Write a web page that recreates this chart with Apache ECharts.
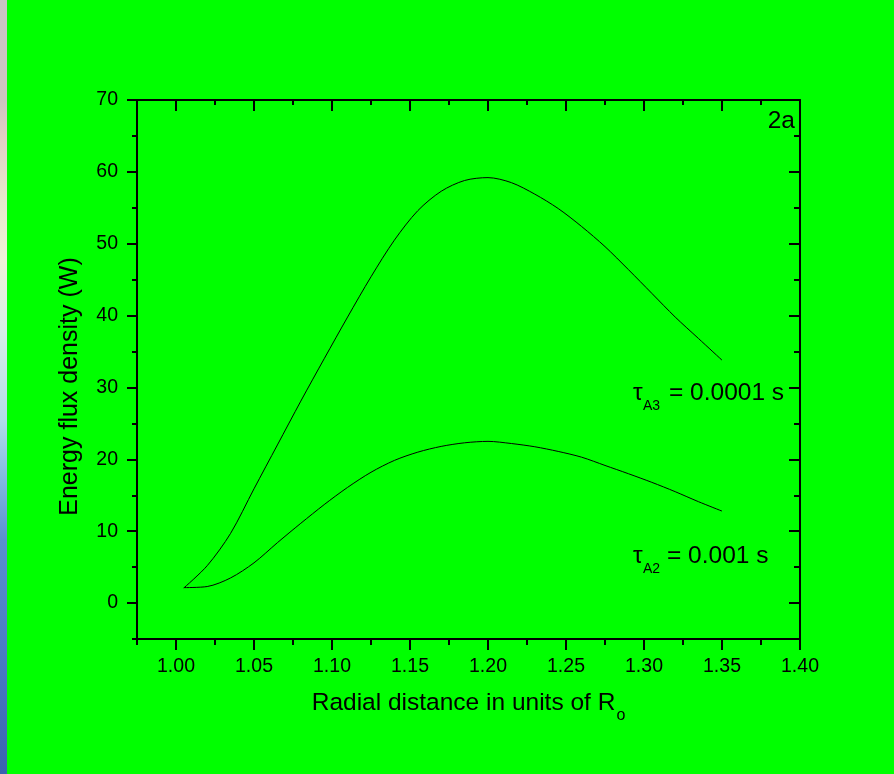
<!DOCTYPE html>
<html><head><meta charset="utf-8">
<script src="https://cdn.jsdelivr.net/npm/echarts@6/dist/echarts.min.js"></script>
<style>
html,body{margin:0;padding:0;background:#00ff00;width:894px;height:774px;overflow:hidden;}
#strip{position:absolute;left:0;top:0;width:7px;height:774px;
background:linear-gradient(to bottom,#c8c4c4 0px,#cdc4c0 100px,#e2cfc4 140px,#e6e8cc 200px,#eef2d8 260px,#d8eee8 330px,#b0dce8 420px,#80b8e0 480px,#5a8fd0 540px,#4a7cc4 650px,#3a64b0 774px);}
#chart{position:absolute;left:0;top:0;width:894px;height:774px;}
</style></head><body>
<div id="strip"></div><div id="chart"></div>
<script>
// ---- data ----
const radius     = [1.005, 1.020, 1.035, 1.050, 1.065, 1.080, 1.095, 1.110, 1.125, 1.140, 1.155, 1.170,
                    1.185, 1.200, 1.215, 1.230, 1.245, 1.260, 1.275, 1.290, 1.305, 1.320, 1.335, 1.350];
const fluxTauA3  = [2.1, 5.2, 9.7, 15.9, 22.0, 28.1, 34.0, 39.8, 45.4, 50.5, 54.6, 57.3,
                    58.8, 59.2, 58.5, 56.9, 54.9, 52.4, 49.6, 46.4, 43.1, 39.8, 36.8, 33.8];
const fluxTauA2  = [2.15, 2.3, 3.5, 5.6, 8.4, 11.1, 13.7, 16.1, 18.2, 19.85, 21.0, 21.8,
                    22.3, 22.5, 22.2, 21.75, 21.1, 20.3, 19.15, 18.0, 16.8, 15.5, 14.1, 12.8];
const xMajorTicks = [1.00, 1.05, 1.10, 1.15, 1.20, 1.25, 1.30, 1.35, 1.40];
const xMinorTicks = [0.975, 1.025, 1.075, 1.125, 1.175, 1.225, 1.275, 1.325, 1.375];
const yMajorTicks = [0, 10, 20, 30, 40, 50, 60, 70];
const yMinorTicks = [-5, 5, 15, 25, 35, 45, 55, 65];
const xRange = [0.975, 1.40];
const yRange = [-5, 70];
const curveLabels = ['A3', 'A2'];
const curveValues = ['= 0.0001 s', '= 0.001 s'];

const FONT = 'Liberation Sans, Arial, sans-serif';
const BLACK = '#000';

function pairs(xs, ys) { return xs.map((x, i) => [x, ys[i]]); }

function xAx(pos, ticks, len, inside, showLine, showLabel, extra) {
  return Object.assign({
    type: 'value', position: pos, min: xRange[0], max: xRange[1],
    axisLine: { show: showLine, onZero: false, lineStyle: { color: BLACK, width: 2 } },
    axisTick: { show: true, customValues: ticks, length: len, inside: inside, lineStyle: { color: BLACK, width: 2 } },
    axisLabel: showLabel ? { show: true, customValues: ticks, formatter: v => v.toFixed(2), fontSize: 19.5, color: BLACK, fontFamily: FONT, margin: 18 } : { show: false },
    splitLine: { show: false }, minorTick: { show: false }
  }, extra || {});
}
function yAx(pos, ticks, len, inside, showLine, showLabel, extra) {
  return Object.assign({
    type: 'value', position: pos, min: yRange[0], max: yRange[1],
    axisLine: { show: showLine, onZero: false, lineStyle: { color: BLACK, width: 2 } },
    axisTick: { show: true, customValues: ticks, length: len, inside: inside, lineStyle: { color: BLACK, width: 2 } },
    axisLabel: showLabel ? { show: true, customValues: ticks, formatter: v => String(v), fontSize: 19.5, color: BLACK, fontFamily: FONT, margin: 19 } : { show: false },
    splitLine: { show: false }, minorTick: { show: false }
  }, extra || {});
}

const chart = echarts.init(document.getElementById('chart'), null, { renderer: 'canvas' });

const option = {
  backgroundColor: 'transparent',
  animation: false,
  grid: { left: 137, right: 94, top: 100, bottom: 135, containLabel: false },
  xAxis: [
    xAx('bottom', xMajorTicks, 11, false, true, true, {
      name: '{a|Radial distance in units of R}{s|o}',
      nameLocation: 'middle', nameGap: 52,
      nameTextStyle: {
        rich: {
          a: { fontSize: 24.5, fontFamily: FONT, color: BLACK, lineHeight: 26, verticalAlign: 'top' },
          s: { fontSize: 16, fontFamily: FONT, color: BLACK, lineHeight: 33, verticalAlign: 'bottom', padding: [0, 0, 0, 1] }
        }
      }
    }),
    xAx('bottom', xMinorTicks, 6, false, false, false),
    xAx('top', xMajorTicks, 11, true, true, false),
    xAx('top', xMinorTicks, 5, true, false, false)
  ],
  yAxis: [
    yAx('left', yMajorTicks, 10, false, true, true, {
      name: 'Energy flux density (W)', nameLocation: 'middle', nameGap: 54,
      nameTextStyle: { fontSize: 25, fontFamily: FONT, color: BLACK, padding: [0, 34, 0, 0] }
    }),
    yAx('left', yMinorTicks, 5, false, false, false),
    yAx('right', yMajorTicks, 11, true, true, false),
    yAx('right', yMinorTicks, 6, true, false, false)
  ],
  series: [
    { name: 'τA3 = 0.0001 s', type: 'line', xAxisIndex: 0, yAxisIndex: 0, data: pairs(radius, fluxTauA3),
      smooth: 0.3, symbol: 'none', lineStyle: { color: BLACK, width: 1 }, itemStyle: { color: BLACK }, z: 5 },
    { name: 'τA2 = 0.001 s', type: 'line', xAxisIndex: 0, yAxisIndex: 0, data: pairs(radius, fluxTauA2),
      smooth: 0.3, symbol: 'none', lineStyle: { color: BLACK, width: 1 }, itemStyle: { color: BLACK }, z: 5 }
  ],
  graphic: []
};
chart.setOption(option);

// annotations
function tauLabel(x, baseline, sub, value, valueX) {
  return {
    type: 'group', children: [
      { type: 'text', x: x, y: baseline - 8.5, style: { text: 'τ', fontSize: 24.5, fontFamily: FONT, fill: BLACK, align: 'left', verticalAlign: 'middle' } },
      { type: 'text', x: x + 10, y: baseline + 9.5 - 4.9, style: { text: sub, fontSize: 14, fontFamily: FONT, fill: BLACK, align: 'left', verticalAlign: 'middle' } },
      { type: 'text', x: valueX, y: baseline - 8.5, style: { text: value, fontSize: 24.5, fontFamily: FONT, fill: BLACK, align: 'left', verticalAlign: 'middle' } }
    ]
  };
}
chart.setOption({
  graphic: [
    tauLabel(633, 402, curveLabels[0], curveValues[0], 669),
    tauLabel(633, 565, curveLabels[1], curveValues[1], 667),
    { type: 'text', x: 795, y: 121, style: { text: '2a', fontSize: 24.5, fontFamily: FONT, fill: BLACK, align: 'right', verticalAlign: 'middle' } }
  ]
});
</script>
</body></html>
